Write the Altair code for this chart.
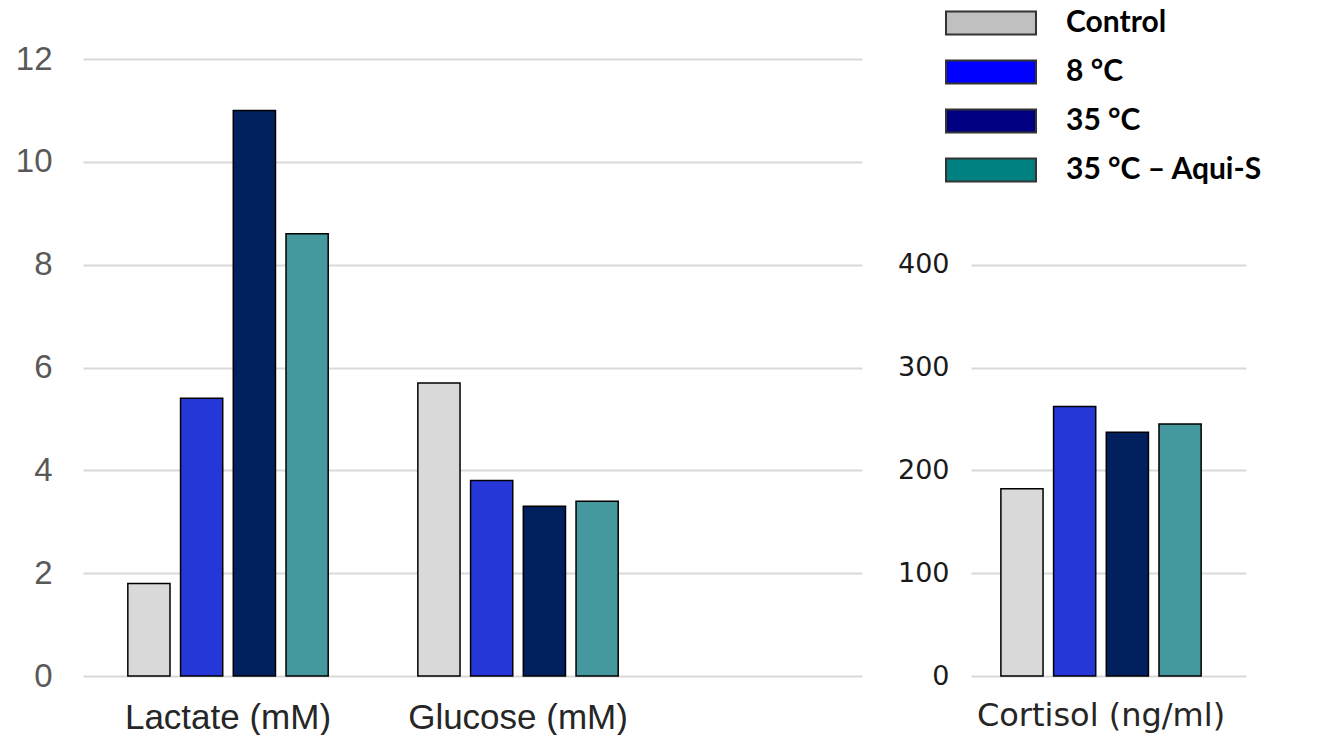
import altair as alt
import pandas as pd

metrics_left = ["Lactate (mM)", "Glucose (mM)"]
metric_right = ["Cortisol (ng/ml)"]
groups = ["Control", "8 °C", "35 °C", "35 °C – Aqui-S"]
lactate = [1.8, 5.4, 11.0, 8.6]
glucose = [5.7, 3.8, 3.3, 3.4]
cortisol = [182, 262, 237, 245]
left_ticks = [0, 2, 4, 6, 8, 10, 12]
right_ticks = [0, 100, 200, 300, 400]
bar_colors = ["#d9d9d9", "#2637d8", "#02205e", "#46989f"]
legend_colors = ["#c0c0c0", "#0000ff", "#000080", "#008080"]

left_df = pd.DataFrame({
    "metric": [m for m in metrics_left for _ in groups],
    "group": groups * 2,
    "value": lactate + glucose,
})
right_df = pd.DataFrame({
    "metric": metric_right * len(groups),
    "group": groups,
    "legend_group": groups,
    "value": cortisol,
})

color = alt.Color("group:N", scale=alt.Scale(domain=groups, range=bar_colors), legend=None)

left = alt.Chart(left_df).mark_bar(stroke="black", strokeWidth=1.5).encode(
    x=alt.X("metric:N", sort=metrics_left,
            scale=alt.Scale(domain=metrics_left, paddingInner=0, paddingOuter=0.343, align=0),
            axis=alt.Axis(title=None, labelAngle=0, labelFont="Liberation Sans", labelFontSize=35,
                          labelColor="#262626", labelPadding=24, labelLimit=400,
                          domain=False, ticks=False, grid=False)),
    xOffset=alt.XOffset("group:N", scale=alt.Scale(domain=groups, paddingInner=0.2, paddingOuter=0.85)),
    y=alt.Y("value:Q", scale=alt.Scale(domain=[0, 12]),
            axis=alt.Axis(title=None, values=left_ticks, labelFont="Liberation Sans", labelFontSize=33,
                          labelColor="#595959", labelPadding=31, domain=False, ticks=False,
                          gridColor="#d9d9d9", gridWidth=2, minExtent=68, maxExtent=68)),
    color=color,
).properties(width=779, height=617)

right_bars = alt.Chart(right_df).mark_bar(stroke="black", strokeWidth=1.5).encode(
    x=alt.X("metric:N",
            scale=alt.Scale(domain=metric_right, paddingInner=0, paddingOuter=0.0288, align=0),
            axis=alt.Axis(title=None, labelAngle=0, labelFont="DejaVu Sans", labelFontSize=32,
                          labelColor="#262626", labelPadding=24, labelLimit=400,
                          domain=False, ticks=False, grid=False)),
    xOffset=alt.XOffset("group:N", scale=alt.Scale(domain=groups, paddingInner=0.2, paddingOuter=0.567)),
    y=alt.Y("value:Q", scale=alt.Scale(domain=[0, 600]),
            axis=alt.Axis(title=None, values=right_ticks, labelFont="DejaVu Sans", labelFontSize=27,
                          labelColor="#1a1a1a", labelPadding=22, domain=False, ticks=False,
                          gridColor="#d9d9d9", gridWidth=2, minExtent=70, maxExtent=70)),
    color=color,
)

# invisible layer that only carries the legend (its swatch palette differs from the bars)
right_legend = alt.Chart(right_df).mark_square(opacity=0).encode(
    x=alt.X("metric:N"),
    y=alt.Y("value:Q"),
    fill=alt.Fill("legend_group:N", sort=groups, scale=alt.Scale(range=legend_colors),
                  legend=alt.Legend(title=None, orient="none", legendX=893, legendY=-51,
                                    symbolType="M-4.09,-1.05H4.09V1.05H-4.09Z", symbolSize=484,
                                    symbolStrokeColor="#333333", symbolStrokeWidth=2,
                                    symbolOpacity=1, labelFont="Lato", labelFontWeight="bold",
                                    labelFontSize=30, labelColor="#000000", labelLimit=400,
                                    labelOffset=60, rowPadding=17)),
)

right = alt.layer(right_bars, right_legend).properties(width=275, height=617)

chart = alt.hconcat(left, right, spacing=35).resolve_scale(xOffset="independent").properties(
    padding={"left": 7, "top": 0, "right": 0, "bottom": 0}
).configure_view(stroke=None)

chart.save("out.html", embed_options={"renderer": "svg", "actions": False})
